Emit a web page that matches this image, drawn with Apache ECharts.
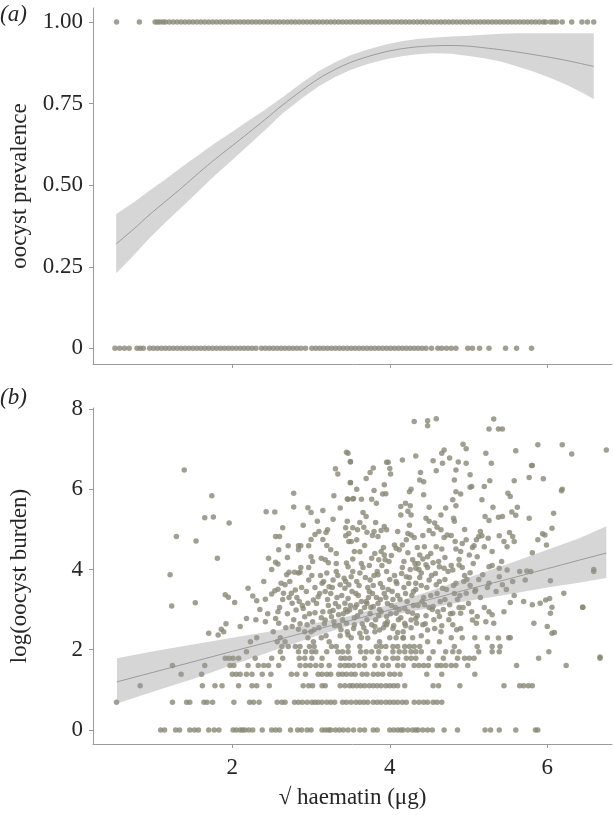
<!DOCTYPE html>
<html><head><meta charset="utf-8">
<script src="https://cdn.jsdelivr.net/npm/echarts@6/dist/echarts.min.js"></script>
<style>html,body{margin:0;padding:0;background:#fff}#c{width:614px;height:815px}</style>
</head><body><div id="c"></div>
<script>
// ---------- data ----------
const xTicks = [2, 4, 6];
const prevTicks = [0, 0.25, 0.5, 0.75, 1];
const prevTickLabels = ['0', '0.25', '0.50', '0.75', '1.00'];
const burdenTicks = [0, 2, 4, 6, 8];

// panel (a): mosquitoes infected (1) / not infected (0)
const prevOneX = [0.53, 0.82, 1.02, 1.05, 1.08, 1.12, 1.15, 1.2, 1.25, 1.3, 1.35, 1.4, 1.45, 1.5, 1.55, 1.6, 1.65, 1.7, 1.75, 1.8, 1.85, 1.9, 1.95, 2.0, 2.05, 2.1, 2.15, 2.2, 2.25, 2.3, 2.35, 2.4, 2.45, 2.5, 2.55, 2.6, 2.65, 2.7, 2.75, 2.8, 2.85, 2.9, 2.95, 3.0, 3.05, 3.1, 3.15, 3.2, 3.25, 3.3, 3.35, 3.4, 3.45, 3.5, 3.55, 3.6, 3.65, 3.7, 3.75, 3.8, 3.85, 3.9, 3.95, 4.0, 4.05, 4.1, 4.15, 4.2, 4.25, 4.3, 4.35, 4.4, 4.45, 4.5, 4.55, 4.6, 4.65, 4.7, 4.75, 4.8, 4.85, 4.9, 4.95, 5.0, 5.05, 5.1, 5.15, 5.2, 5.25, 5.3, 5.35, 5.4, 5.45, 5.5, 5.55, 5.6, 5.65, 5.7, 5.75, 5.8, 5.85, 5.9, 5.95, 5.98, 6.04, 6.08, 6.12, 6.19, 6.31, 6.44, 6.51, 6.59];
const prevZeroX = [0.51, 0.57, 0.63, 0.69, 0.79, 0.83, 0.87, 0.95, 1.0, 1.05, 1.1, 1.15, 1.2, 1.25, 1.3, 1.35, 1.4, 1.45, 1.5, 1.55, 1.6, 1.65, 1.7, 1.75, 1.8, 1.85, 1.9, 1.95, 2.0, 2.05, 2.1, 2.15, 2.2, 2.25, 2.3, 2.37, 2.42, 2.47, 2.52, 2.57, 2.62, 2.67, 2.72, 2.77, 2.82, 2.87, 2.93, 3.01, 3.06, 3.11, 3.16, 3.21, 3.26, 3.31, 3.36, 3.41, 3.46, 3.51, 3.56, 3.61, 3.66, 3.71, 3.76, 3.81, 3.86, 3.91, 3.96, 4.01, 4.06, 4.11, 4.16, 4.21, 4.26, 4.31, 4.36, 4.41, 4.46, 4.53, 4.61, 4.66, 4.72, 4.78, 4.84, 4.99, 5.05, 5.14, 5.26, 5.47, 5.61, 5.8];

// panel (a) fitted curve and 95% band
const fitAX  = [0.525, 0.75, 0.946, 1.16, 1.367, 1.58, 1.788, 2.0, 2.209, 2.42, 2.63, 2.88, 3.1, 3.3, 3.5, 3.72, 3.95, 4.15, 4.35, 4.55, 4.78, 5.0, 5.2, 5.41, 5.62, 5.83, 6.05, 6.25, 6.42, 6.59];
const fitAY  = [0.320, 0.366, 0.409, 0.452, 0.494, 0.539, 0.581, 0.621, 0.661, 0.702, 0.744, 0.790, 0.827, 0.854, 0.876, 0.894, 0.909, 0.918, 0.924, 0.927, 0.928, 0.926, 0.921, 0.915, 0.908, 0.900, 0.891, 0.882, 0.873, 0.864];
const fitAHi = [0.412, 0.448, 0.483, 0.520, 0.557, 0.594, 0.630, 0.664, 0.698, 0.732, 0.768, 0.813, 0.850, 0.876, 0.898, 0.916, 0.931, 0.941, 0.948, 0.952, 0.956, 0.958, 0.961, 0.964, 0.966, 0.966, 0.966, 0.966, 0.966, 0.966];
const fitALo = [0.230, 0.285, 0.337, 0.388, 0.435, 0.484, 0.532, 0.577, 0.623, 0.670, 0.718, 0.766, 0.803, 0.831, 0.853, 0.871, 0.886, 0.895, 0.901, 0.904, 0.903, 0.896, 0.889, 0.879, 0.864, 0.848, 0.828, 0.807, 0.786, 0.764];

// panel (b): log(oocyst burden), discrete low levels
const burdenLevels = [0, 0.69, 1.10, 1.39, 1.61, 1.79, 1.95, 2.08];
const burdenRowX = [
  [1.09, 1.14, 1.28, 1.33, 1.46, 1.52, 1.57, 1.70, 1.77, 1.83, 2.01, 2.05, 2.10, 2.13, 2.16, 2.21, 2.26, 2.38, 2.50, 2.55, 2.60, 2.74, 2.83, 2.88, 2.95, 3.00, 3.14, 3.18, 3.22, 3.25, 3.31, 3.36, 3.41, 3.47, 3.54, 3.62, 3.68, 3.79, 3.84, 4.00, 4.05, 4.10, 4.14, 4.17, 4.23, 4.29, 4.33, 4.36, 4.42, 4.48, 4.54, 4.69, 4.86, 5.21, 5.28, 5.39, 5.60, 5.85, 5.88],
  [0.53, 1.24, 1.42, 1.46, 1.64, 1.68, 1.75, 2.02, 2.22, 2.27, 2.34, 2.57, 2.63, 2.67, 2.79, 2.84, 2.89, 2.95, 3.01, 3.05, 3.09, 3.14, 3.20, 3.25, 3.30, 3.40, 3.45, 3.51, 3.57, 3.62, 3.67, 3.72, 3.79, 3.84, 3.89, 3.95, 4.00, 4.05, 4.10, 4.16, 4.21, 4.31, 4.37, 4.43, 4.48, 4.55, 4.60, 4.66],
  [0.83, 1.62, 1.78, 1.87, 2.08, 2.25, 2.31, 2.47, 2.90, 2.97, 3.02, 3.14, 3.18, 3.37, 3.43, 3.49, 3.53, 3.58, 3.63, 3.68, 3.74, 3.79, 3.84, 3.89, 3.95, 4.00, 4.05, 4.10, 4.19, 4.55, 4.62, 4.89, 5.45, 5.65, 5.70, 5.76, 5.81],
  [1.35, 1.61, 2.00, 2.05, 2.10, 2.18, 2.25, 2.38, 2.49, 2.75, 2.82, 2.93, 3.09, 3.14, 3.20, 3.25, 3.35, 3.40, 3.45, 3.51, 3.56, 3.65, 3.71, 3.79, 3.85, 3.91, 4.00, 4.06, 4.13, 4.47, 4.66, 5.08],
  [1.24, 1.65, 1.97, 2.02, 2.20, 2.33, 2.40, 2.46, 2.59, 2.86, 2.93, 2.99, 3.06, 3.13, 3.23, 3.37, 3.43, 3.48, 3.54, 3.61, 3.68, 3.81, 3.91, 3.98, 4.10, 4.17, 4.31, 4.37, 4.43, 4.49, 4.60, 4.65, 4.71, 4.78, 4.84, 4.99, 5.61, 6.24],
  [1.91, 1.96, 2.01, 2.08, 2.29, 2.50, 2.64, 2.85, 2.92, 3.01, 3.14, 3.38, 3.43, 3.49, 3.68, 3.85, 3.95, 4.04, 4.10, 4.21, 4.27, 4.33, 4.50, 4.68, 4.86, 4.95, 5.01, 5.07, 5.89, 6.67],
  [2.18, 2.61, 2.84, 2.93, 3.01, 3.06, 3.20, 3.34, 3.40, 3.47, 3.63, 3.70, 3.77, 3.86, 4.04, 4.12, 4.19, 4.27, 4.33, 4.40, 4.55, 4.71, 4.80, 4.88, 5.13, 5.30, 5.39, 6.02],
  [2.63, 2.71, 2.80, 2.86, 2.98, 3.04, 3.26, 3.32, 3.47, 3.62, 3.83, 3.89, 3.95, 4.04, 4.10, 4.19, 4.25, 4.31, 4.38, 4.82, 5.11, 5.30, 5.40]
];
// panel (b): higher burdens
const burdenScatter = [
  [1.21,3.87],[1.23,3.09],[1.53,3.17],[1.39,6.48],[1.74,5.84],[1.65,5.29],[1.76,5.31],[1.96,5.16],[1.29,4.82],[1.54,4.71],[1.81,4.28],
  [2.23,2.20],[2.57,2.20],[2.67,2.20],[3.03,2.20],[3.23,2.20],[4.63,2.20],[3.87,2.20],[4.48,2.20],
  [2.31,2.30],[2.61,2.30],[2.96,2.30],[3.13,2.30],[3.64,2.30],[4.00,2.30],[4.78,2.30],[4.92,2.30],[5.08,2.30],[5.24,2.30],[5.51,2.30],[5.53,2.30],[3.51,2.30],[4.08,2.30],[4.17,2.30],[4.29,2.30],
  [3.37,2.35],[3.47,2.37],[1.70,2.41],[1.82,2.37],[1.86,2.51],[1.89,2.45],[2.10,2.58],[2.18,2.78],[1.92,2.65],[2.42,2.70],[2.55,2.78],[2.59,2.66],[2.76,2.58],[2.84,2.51],[3.00,2.45],[2.92,2.82],[3.05,2.92],[3.18,2.74],[3.26,2.82],[3.35,2.87],[3.46,2.95],
  [3.72,2.29],[4.17,2.29],[4.40,2.35],[5.38,2.29],
  [3.45,2.66],[3.54,2.53],[3.62,2.41],[3.70,2.45],[3.81,2.58],[3.87,2.49],[3.96,2.62],[4.04,2.53],[4.10,2.43],[4.19,2.66],[4.27,2.74],[4.34,2.66],[4.42,2.62],[4.48,2.49],[4.57,2.53],[4.65,2.45],[4.80,2.62],[4.90,2.53],[5.05,2.74],[5.10,2.66],[5.22,2.70],[5.32,2.66],[5.83,2.66],[6.00,2.58],[6.06,2.41],[6.09,2.43],
  [3.49,2.99],[3.58,3.12],[3.70,3.20],[3.79,3.08],[3.89,2.95],[3.96,2.83],[4.08,2.91],[4.19,3.03],[4.29,2.91],[4.33,2.78],[4.44,3.12],[4.55,3.08],[4.61,2.95],[4.63,2.83],[4.76,3.12],[4.80,2.91],[4.90,2.91],[5.11,2.83],[5.26,2.95],[5.30,2.87],[5.53,3.18],[5.81,3.12],[5.91,3.16],[5.98,3.24],[6.03,3.28],[6.06,3.06],[6.04,2.91],[6.45,3.06],
  [3.51,3.82],[3.62,3.91],[3.75,3.74],[3.85,3.87],[3.96,3.95],[4.08,3.70],[4.21,3.82],[4.33,3.66],[4.40,3.91],[4.50,3.74],[4.59,3.62],[4.67,3.53],[4.84,3.66],[4.94,3.70],[4.97,3.41],[5.09,3.49],[5.18,3.87],[5.26,3.66],[5.39,3.82],[5.43,3.62],[5.56,3.70],[5.72,3.74],[5.79,3.95],[6.04,3.72],[6.21,3.41],[6.59,3.95],
  [1.91,3.37],[1.95,3.31],[2.03,3.18],[2.20,3.53],[2.26,3.34],[2.31,3.22],[2.42,3.26],[2.50,3.39],[2.54,3.47],[2.58,3.51],[2.62,3.66],[2.67,3.62],[2.65,3.41],[2.75,3.41],[2.80,3.49],[2.85,3.20],[2.76,3.16],[2.81,2.99],[2.90,3.03],[2.96,3.16],[3.03,3.24],[3.09,3.32],[3.14,3.66],[3.18,3.45],[3.23,3.57],[3.28,3.74],[3.37,3.62],[3.43,3.53],[3.47,3.28],[3.35,3.07],[3.28,2.98],[3.43,3.16],[3.52,3.45],[3.20,3.91],[2.97,3.74],[2.84,3.91],[2.69,3.87],
  [2.95,2.62],[3.02,2.70],[3.10,2.55],[3.15,2.95],[3.22,3.10],[3.30,2.60],[3.33,3.30],[3.40,2.75],[3.44,3.00],[3.55,2.80],[3.60,3.35],[3.65,2.65],[3.68,3.05],[3.72,3.55],[3.75,2.90],[3.78,3.40],[3.82,2.75],[3.85,3.15],[3.88,3.65],[3.92,2.55],[3.95,3.30],[3.98,3.50],[4.02,3.10],[4.06,3.85],[4.10,3.35],[4.14,2.80],[4.18,3.55],[4.22,3.20],[4.26,4.00],[4.30,3.45],[4.36,3.10],[4.40,3.60],[4.46,2.85],[4.52,3.35],[4.58,3.90],[4.64,3.20],[4.70,3.75],[4.75,2.75],[4.82,3.40],[4.88,3.05],[4.95,3.85],[5.00,3.15],[5.15,3.30],[5.20,3.05],[5.35,3.45],[5.45,2.95],
  [2.60,3.05],[2.70,2.90],[2.72,3.30],[2.88,3.55],[2.92,2.45],[3.05,3.55],[3.12,3.85],[3.17,2.65],[3.25,3.40],[3.32,3.95],[3.38,2.50],[3.42,3.78],[3.48,3.62],[3.56,3.05],[3.58,3.70],[3.63,2.95],[3.66,4.05],[3.71,3.15],[3.74,3.45],[3.77,2.62],[3.80,3.85],[3.83,3.30],[3.87,3.00],[3.90,4.10],[3.93,3.40],[3.97,2.70],[4.00,3.75],[4.04,3.25],[4.12,3.00],[4.16,4.05],[4.20,2.60],[4.24,3.65],[4.28,3.35],[4.32,4.15],[4.38,3.80],[4.43,3.30],[4.48,4.05],[4.54,3.00],[4.62,4.20],[4.68,3.00],[4.72,3.50],[4.78,4.10],[4.86,3.25],[4.92,4.05],[5.02,3.60],[5.06,4.15],[5.13,3.75],[5.24,3.55],[5.30,4.10],[5.48,3.50],[5.58,3.35],[5.65,3.95],[5.70,3.20],
  [2.52,2.45],[2.58,2.95],[2.64,3.25],[2.68,2.55],[2.73,3.70],[2.78,2.75],[2.82,3.30],[2.86,2.65],[2.89,3.10],[2.94,3.45],[2.98,2.90],[3.01,3.85],[3.04,2.50],[3.07,3.15],[3.11,3.40],[3.13,2.80],[3.16,3.70],[3.19,2.35],[3.21,3.25],[3.24,2.95],[3.27,3.55],[3.29,2.70],[3.31,3.15],[3.34,3.85],[3.36,2.60],[3.39,3.35],[3.41,2.90],[3.44,3.70],[3.46,2.45],[3.50,3.10],[3.53,3.95],[3.55,2.62],[3.57,3.40],[3.59,2.85],[3.61,3.60],[3.64,3.20],[3.67,2.55],[3.69,3.80],[3.71,2.75],[3.73,3.30],[3.76,3.05],[3.79,3.60],[3.81,2.45],[3.84,3.95],[3.86,2.85],[3.88,3.25],[3.91,3.55],[3.94,2.65],[3.97,3.15],[3.99,4.20],[4.01,2.90],[4.03,3.45],[4.05,2.60],[4.07,3.05],[4.09,3.65],[4.11,2.75],[4.13,3.25],[4.15,3.90],[4.17,2.45],[4.20,3.40],[4.23,2.95],[4.25,3.80],[4.27,2.55],[4.30,3.10],[4.33,3.50],[4.35,2.85],[4.37,4.00],[4.41,3.20],[4.45,2.65],[4.47,3.55],[4.50,3.05],[4.53,3.85],[4.56,2.75],[4.60,3.40],[4.63,3.70],[4.66,2.60],[4.70,3.25],[4.74,3.95],[4.77,2.90],[4.81,3.60],[4.85,2.50],[4.89,3.35],[4.93,3.05],[4.98,3.75],[5.04,2.95],[5.08,3.45],
  [3.55,4.45],[3.68,4.60],[3.74,4.10],[3.80,4.95],[3.92,4.55],[4.02,4.35],[4.10,4.95],[4.18,4.20],[4.25,5.10],[4.35,4.55],[4.42,4.85],[4.52,4.40],[4.60,5.05],[4.70,4.30],[4.78,4.85],[4.88,4.25],[4.95,5.00],[5.05,4.55],[5.15,4.95],[5.30,4.45],[5.45,4.70],[3.20,4.60],[3.10,4.95],[3.28,5.25],[3.00,4.75],[2.90,5.10],[2.70,4.30],[2.50,4.00],[2.40,3.70],[2.35,3.00],[2.45,2.90],[2.30,2.75],
  [2.78,5.90],[2.43,5.44],[2.54,5.43],[2.78,5.56],[2.96,5.54],[3.00,5.42],[3.15,5.47],[3.45,6.92],[3.50,6.68],[3.31,6.51],[3.34,6.38],[3.50,6.16],[3.29,5.84],[3.46,5.76],[3.53,5.76],[3.37,5.53],[2.64,5.04],[2.55,4.82],[2.60,4.82],[3.08,5.20],[3.21,4.99],[3.19,4.92],[3.05,4.87],[3.15,4.75],[3.46,5.20],[3.44,5.04],[3.44,4.84],[3.48,4.70],
  [2.71,4.59],[2.84,4.59],[2.87,4.59],[2.97,4.59],[2.59,4.49],[2.84,4.49],[3.25,4.49],[3.32,4.40],[2.46,4.28],[2.55,4.18],[2.58,4.14],[3.00,4.32],[3.02,4.20],[3.13,4.28],[3.18,4.24],[3.22,4.17],[2.87,4.05],[2.97,4.05],[3.32,4.15],[3.45,4.16],[3.47,4.07],[2.72,3.93],[2.79,3.93],[2.86,3.93],
  [4.31,7.69],[4.48,7.71],[4.48,7.58],[4.59,7.76],[5.32,7.75],[5.26,7.50],[5.38,7.50],[5.43,7.50],[4.93,7.12],[4.97,7.01],[5.22,6.90],[5.60,6.96],[5.88,7.11],[6.19,7.11],[6.31,6.88],[6.75,6.98],
  [3.47,6.90],[3.50,6.69],[3.96,6.67],[3.98,6.67],[4.16,6.73],[4.33,6.83],[4.69,6.98],[4.66,6.90],[4.55,6.71],[4.67,6.65],[4.76,6.78],[4.87,6.68],[4.97,6.65],[5.29,6.65],[5.81,6.59],
  [4.00,6.52],[4.01,6.38],[3.79,6.53],[3.75,6.42],[3.70,6.27],[3.50,6.17],[3.58,6.00],[3.64,5.75],[3.54,5.77],[3.47,5.75],[3.93,6.11],[3.91,5.88],[3.95,5.89],[3.77,5.75],[3.83,5.65],[3.80,5.97],[4.27,6.00],[4.25,5.94],[4.39,6.42],[4.38,6.23],[4.43,6.19],[4.59,6.46],[4.43,5.86],
  [4.84,6.48],[4.82,6.23],[4.84,5.94],[4.90,5.88],[5.02,6.36],[5.04,6.07],[5.02,6.05],[5.20,6.07],[5.27,6.21],[5.17,5.74],[5.58,6.21],[5.77,6.29],[5.95,6.26],[5.80,6.59],[5.50,5.90],[5.53,5.82],[6.19,6.00],
  [4.14,5.57],[4.20,5.65],[4.26,5.59],[4.23,5.45],[4.27,5.36],[4.14,5.36],[4.50,5.55],[4.46,5.28],[4.50,5.20],[4.57,5.16],[4.65,5.36],[4.71,5.53],[4.80,5.74],[4.84,5.59],[4.81,5.28],[4.82,5.20],
  [5.31,5.55],[5.38,5.30],[5.43,5.32],[5.21,5.32],[5.26,5.22],[5.55,5.43],[5.62,5.55],[5.60,5.35],[5.77,5.28],[6.08,5.40],[6.06,5.03],[5.97,4.86],[5.94,4.89],[5.88,4.74],[5.99,4.61],[5.81,4.42],
  [5.39,4.84],[5.52,4.92],[5.56,4.82],[5.58,4.70],[5.49,4.57],[5.42,4.20],[5.13,4.82],[5.10,4.74],[5.17,4.84],[5.25,4.78],[5.20,4.57],[5.07,4.59],[4.97,4.74],[4.92,4.65],[4.83,4.70],[5.11,4.32],[5.01,4.36],[4.90,4.45],[4.84,4.51],
  [4.50,4.97],[4.55,4.89],[4.65,4.99],[4.69,4.80],[4.73,4.86],[4.59,4.57],[4.66,4.51],[4.44,4.57],[4.38,4.36],[4.48,4.32],[4.55,4.17],
  [4.23,4.90],[4.27,4.86],[4.31,4.80],[4.21,4.74],[4.16,4.61],[4.12,4.49],[4.23,4.42],[3.89,4.45],[3.93,4.36],[3.81,4.40],[3.77,4.28],[3.94,4.24],[3.86,4.24],[4.06,4.61],[4.08,4.53],
  [3.71,4.93],[3.78,4.85],[3.82,5.17],[3.93,5.07],[3.96,4.99],[3.89,4.97],[3.85,4.82],[3.62,5.17],[3.67,5.05],[3.59,4.99],[3.53,5.04],[3.48,4.90],[3.58,4.74],[3.51,4.70],[3.66,5.42],[3.70,5.32],[3.62,4.44],[3.53,4.26],[3.64,4.15],
  [4.29,4.24],[4.36,4.15],[4.42,4.26],[4.46,4.12],[4.33,4.03],[4.63,4.07],[4.69,4.03],[4.88,4.11],[4.80,3.99],[5.02,3.92],[5.26,4.07],[5.39,4.03],[5.49,3.99],[5.74,3.96],[6.59,4.00],
  [6.18,5.96],[6.45,3.06],[6.67,1.82]
];

// panel (b) fitted line and 95% band
const fitBX  = [0.535, 1.0, 1.5, 2.0, 2.5, 3.0, 3.5, 4.0, 4.5, 5.0, 5.5, 6.0, 6.4, 6.75];
const fitBY  = [1.20, 1.44, 1.70, 1.96, 2.21, 2.47, 2.73, 2.99, 3.25, 3.51, 3.76, 4.02, 4.23, 4.41];
const fitBHi = [1.79, 1.96, 2.13, 2.30, 2.46, 2.64, 2.85, 3.13, 3.46, 3.80, 4.14, 4.49, 4.77, 5.08];
const fitBLo = [0.66, 0.96, 1.27, 1.62, 1.96, 2.30, 2.61, 2.85, 3.04, 3.22, 3.38, 3.55, 3.67, 3.79];

// ---------- chart ----------
const FONT = '"Liberation Serif", "Times New Roman", serif';
const AX = '#9a9a9a';
const PT = '#8a8775';
const chart = echarts.init(document.getElementById('c'), null, {renderer: 'canvas'});

function pairs(xs, ys) { return xs.map((x, i) => [x, ys[i]]); }
function ribbon(xs, lo, hi) {
  return function (params, api) {
    if (params.dataIndex !== 0) return null;
    const pts = [];
    for (let i = 0; i < xs.length; i++) pts.push(api.coord([xs[i], hi[i]]));
    for (let i = xs.length - 1; i >= 0; i--) pts.push(api.coord([xs[i], lo[i]]));
    return {type: 'polygon', shape: {points: pts}, style: {fill: 'rgba(153,153,153,0.4)'}};
  };
}
const burdenPts = [];
burdenRowX.forEach((row, k) => row.forEach(x => burdenPts.push([x, burdenLevels[k]])));
burdenScatter.forEach(p => burdenPts.push(p));

const axisCommon = {
  axisLine: {show: true, onZero: false, lineStyle: {color: AX, width: 1}},
  axisTick: {show: true, length: 4, lineStyle: {color: AX, width: 1}},
  splitLine: {show: false},
  axisLabel: {color: '#262626', fontFamily: FONT, fontSize: 23, margin: 10},
  nameTextStyle: {color: '#262626', fontFamily: FONT, fontSize: 23}
};
const xMin = 0.231, xMax = 6.822;

chart.setOption({
  animation: false,
  backgroundColor: '#fff',
  grid: [
    {left: 90, right: 2, top: 8, height: 356},
    {left: 90, right: 2, top: 408, height: 336}
  ],
  xAxis: [
    Object.assign({}, axisCommon, {
      gridIndex: 0, type: 'value', min: xMin, max: xMax,
      axisTick: Object.assign({}, axisCommon.axisTick, {customValues: xTicks}),
      axisLabel: {show: false}
    }),
    Object.assign({}, axisCommon, {
      gridIndex: 1, type: 'value', min: xMin, max: xMax,
      axisTick: Object.assign({}, axisCommon.axisTick, {customValues: xTicks}),
      axisLabel: Object.assign({}, axisCommon.axisLabel, {customValues: xTicks, margin: 12}),
      name: '√ haematin (μg)', nameLocation: 'middle', nameGap: 42
    })
  ],
  yAxis: [
    Object.assign({}, axisCommon, {
      gridIndex: 0, type: 'value', min: -0.048, max: 1.043,
      axisTick: Object.assign({}, axisCommon.axisTick, {customValues: prevTicks}),
      axisLabel: Object.assign({}, axisCommon.axisLabel, {
        customValues: prevTicks,
        formatter: v => prevTickLabels[prevTicks.indexOf(+v.toFixed(2))] ?? String(v)
      }),
      name: 'oocyst prevalence', nameLocation: 'middle', nameGap: 62
    }),
    Object.assign({}, axisCommon, {
      gridIndex: 1, type: 'value', min: -0.349, max: 8.025,
      axisTick: Object.assign({}, axisCommon.axisTick, {customValues: burdenTicks}),
      axisLabel: Object.assign({}, axisCommon.axisLabel, {customValues: burdenTicks}),
      name: 'log(oocyst burden)', nameLocation: 'middle', nameGap: 62
    })
  ],
  graphic: [
    {type: 'text', left: 0, top: 3, style: {text: '(a)', font: 'italic 23px "Liberation Serif", "Times New Roman", serif', fill: '#262626'}},
    {type: 'text', left: 0, top: 386, style: {text: '(b)', font: 'italic 23px "Liberation Serif", "Times New Roman", serif', fill: '#262626'}}
  ],
  series: [
    {type: 'scatter', xAxisIndex: 0, yAxisIndex: 0, symbol: 'circle', symbolSize: 5.5, itemStyle: {color: PT},
     data: prevOneX.map(x => [x, 1]).concat(prevZeroX.map(x => [x, 0])), z: 2},
    {type: 'custom', xAxisIndex: 0, yAxisIndex: 0, data: [[fitAX[0], fitAY[0]]], renderItem: ribbon(fitAX, fitALo, fitAHi), z: 3, silent: true},
    {type: 'line', xAxisIndex: 0, yAxisIndex: 0, data: pairs(fitAX, fitAY), smooth: 0.3, showSymbol: false,
     lineStyle: {color: '#8c8c8c', width: 0.8}, z: 4},
    {type: 'scatter', xAxisIndex: 1, yAxisIndex: 1, symbol: 'circle', symbolSize: 5.5, itemStyle: {color: PT},
     data: burdenPts, z: 2, large: false},
    {type: 'custom', xAxisIndex: 1, yAxisIndex: 1, data: [[fitBX[0], fitBY[0]]], renderItem: ribbon(fitBX, fitBLo, fitBHi), z: 3, silent: true},
    {type: 'line', xAxisIndex: 1, yAxisIndex: 1, data: pairs(fitBX, fitBY), showSymbol: false,
     lineStyle: {color: '#8c8c8c', width: 0.8}, z: 4}
  ]
});
</script></body></html>
